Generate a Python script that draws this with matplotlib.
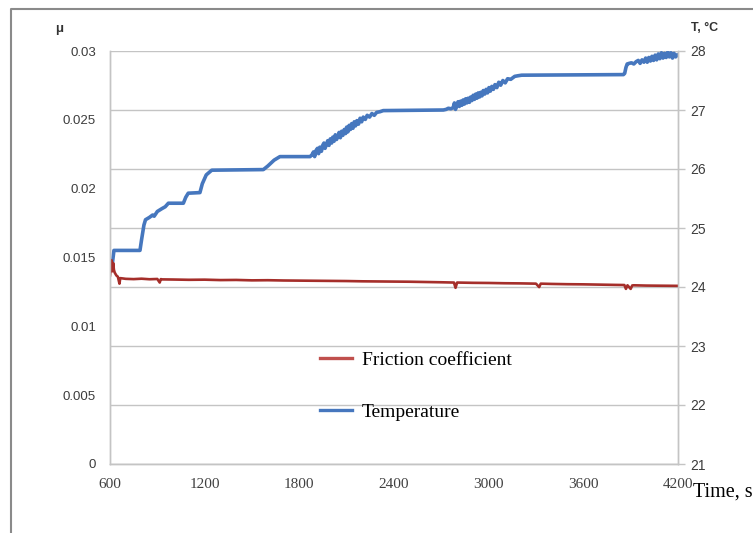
import matplotlib
matplotlib.use("Agg")
import matplotlib.pyplot as plt
from matplotlib.lines import Line2D

# Friction coefficient vs time
mu_time = [600, 605, 610, 615, 620, 625, 630, 640, 650, 660, 665, 680, 700, 750, 800,
           850, 900, 915, 922, 930, 1000, 1100, 1200, 1300, 1400, 1500, 1600, 1700,
           1800, 1900, 2000, 2100, 2200, 2300, 2400, 2500, 2600, 2700, 2780, 2790,
           2800, 2900, 3000, 3100, 3200, 3300, 3320, 3330, 3400, 3500, 3600, 3700,
           3800, 3860, 3870, 3880, 3900, 3910, 3920, 4000, 4100, 4200]
mu_values = [0.0137, 0.0143, 0.0148, 0.0140, 0.0146, 0.0141, 0.0139, 0.0137, 0.0136,
             0.0131, 0.0135, 0.01348, 0.01345, 0.01343, 0.01346, 0.01342, 0.01344,
             0.01318, 0.01343, 0.01341, 0.01340, 0.01338, 0.01339, 0.01336, 0.01337,
             0.01334, 0.01335, 0.01333, 0.01332, 0.01331, 0.01330, 0.01329, 0.01327,
             0.01326, 0.01325, 0.01324, 0.01322, 0.01320, 0.01318, 0.01280, 0.01318,
             0.01316, 0.01315, 0.01313, 0.01312, 0.01310, 0.01285, 0.01310, 0.01308,
             0.01306, 0.01305, 0.01303, 0.01301, 0.01300, 0.01272, 0.01298, 0.01272,
             0.01297, 0.01298, 0.01296, 0.01295, 0.01294]

# Temperature vs time
temp_time = [600, 615, 625, 790, 800, 815, 825, 850, 870, 880, 900, 930, 950, 970,
             1065, 1080, 1096, 1170, 1185, 1210, 1245, 1572, 1600, 1640, 1677,
             1868, 1880, 1890, 1897, 1905, 1915, 1922, 1930, 1940, 1948, 1956, 1963,
             1972, 1980, 1988, 1996, 2005, 2012, 2020, 2028, 2036, 2045, 2052, 2060,
             2068, 2076, 2085, 2093, 2100, 2108, 2116, 2124, 2132, 2140, 2148, 2156,
             2165, 2175, 2185, 2195, 2205, 2218, 2230, 2245, 2260, 2275, 2290, 2310,
             2332, 2713, 2730, 2745, 2760,
             2775, 2783, 2790, 2798, 2806, 2814, 2822, 2830, 2838, 2846, 2854, 2862,
             2870, 2878, 2886, 2894, 2902, 2910, 2918, 2926, 2934, 2942, 2950, 2958,
             2966, 2975, 2984, 2993, 3002, 3011, 3020, 3030, 3040, 3052, 3064, 3076,
             3090, 3105, 3120, 3140, 3165, 3185, 3209,
             3854, 3862, 3870, 3878, 3890, 3905, 3920, 3935, 3948, 3960, 3972, 3984,
             3995, 4005, 4015, 4025, 4035, 4045, 4055, 4065, 4075, 4085, 4095, 4105,
             4115, 4125, 4135, 4145, 4155, 4165, 4175, 4185, 4195]
temp_values = [24.37, 24.40, 24.62, 24.62, 24.80, 25.05, 25.14, 25.18, 25.22, 25.20,
               25.28, 25.33, 25.36, 25.42, 25.42, 25.52, 25.59, 25.60, 25.75, 25.90,
               25.98, 25.99, 26.05, 26.15, 26.21,
               26.21, 26.24, 26.29, 26.21, 26.31, 26.35, 26.26, 26.37, 26.30, 26.40,
               26.44, 26.35, 26.42, 26.48, 26.40, 26.51, 26.44, 26.54, 26.47, 26.58,
               26.50, 26.56, 26.62, 26.53, 26.64, 26.57, 26.67, 26.60, 26.71, 26.63,
               26.74, 26.67, 26.77, 26.69, 26.80, 26.73, 26.82, 26.76, 26.86, 26.80,
               26.88, 26.84, 26.91, 26.88, 26.94, 26.91, 26.96, 26.97,
               26.99, 27.00, 27.01, 27.03, 27.02,
               27.04, 27.12, 27.01, 27.09, 27.14, 27.06, 27.15, 27.08, 27.17, 27.10,
               27.19, 27.12, 27.20, 27.13, 27.22, 27.16, 27.25, 27.18, 27.27, 27.20,
               27.29, 27.22, 27.30, 27.24, 27.33, 27.27, 27.35, 27.29, 27.38, 27.32,
               27.40, 27.35, 27.43, 27.38, 27.47, 27.42, 27.50, 27.46, 27.53, 27.52,
               27.57, 27.58, 27.59,
               27.60, 27.62, 27.72, 27.78, 27.79, 27.80, 27.78, 27.82, 27.84, 27.79,
               27.85, 27.81, 27.88, 27.81, 27.89, 27.83, 27.91, 27.84, 27.93, 27.85,
               27.95, 27.87, 27.97, 27.88, 27.96, 27.89, 27.98, 27.90, 27.97, 27.88,
               27.96, 27.90, 27.93]

x_ticks = [600, 1200, 1800, 2400, 3000, 3600, 4200]
x_tick_labels = ["600", "1200", "1800", "2400", "3000", "3600", "4200"]
mu_ticks = [0, 0.005, 0.01, 0.015, 0.02, 0.025, 0.03]
mu_tick_labels = ["0", "0.005", "0.01", "0.015", "0.02", "0.025", "0.03"]
temp_ticks = [21, 22, 23, 24, 25, 26, 27, 28]
temp_tick_labels = ["21", "22", "23", "24", "25", "26", "27", "28"]

BLUE = "#4677BE"
RED = "#A52E2A"
GRID = "#c4c4c4"
TICK_TXT = "#3c3c3c"

fig = plt.figure(figsize=(7.53, 5.33), dpi=100)
fig.patch.set_facecolor("white")

# Temperature axes sits underneath and carries the gridlines
ax_t = fig.add_axes([110 / 753, 1 - 464 / 533, 568 / 753, 413 / 533])
ax_mu = ax_t.twinx()
ax_mu.set_zorder(ax_t.get_zorder() + 1)
ax_mu.patch.set_visible(False)

ax_t.plot(temp_time, temp_values, color=BLUE, lw=2.6, solid_joinstyle="round",
          label="Temperature")
ax_mu.plot(mu_time, mu_values, color=RED, lw=1.9, label="Friction coefficient")

ax_t.set_xlim(600, 4200)
ax_t.set_ylim(21, 28)
ax_mu.set_ylim(0, 0.03)

# temperature scale on the right, friction scale on the left
ax_t.yaxis.tick_right()
ax_t.yaxis.set_label_position("right")
ax_mu.yaxis.tick_left()
ax_mu.yaxis.set_label_position("left")

ax_t.set_yticks(temp_ticks)
ax_t.set_yticklabels(temp_tick_labels, fontfamily="Liberation Sans", fontsize=10,
                     color=TICK_TXT)
ax_t.tick_params(axis="y", direction="out", length=5, width=1, color=GRID, pad=4)
ax_mu.set_yticks(mu_ticks)
ax_mu.set_yticklabels(mu_tick_labels, fontfamily="Liberation Sans", fontsize=9.5,
                      color=TICK_TXT)
ax_mu.tick_params(axis="y", length=0, pad=10)

ax_t.set_xticks(x_ticks)
ax_t.set_xticklabels(x_tick_labels, fontfamily="Liberation Serif", fontsize=11,
                     color="#404040")
ax_t.tick_params(axis="x", length=0, pad=10)

ax_t.grid(axis="y", color=GRID, lw=1)
ax_t.set_axisbelow(True)
for ax in (ax_t, ax_mu):
    for side in ("left", "right", "bottom"):
        ax.spines[side].set_color(GRID)
        ax.spines[side].set_linewidth(1)
    ax.spines["top"].set_visible(False)

# axis titles
fig.text(59 / 753, 1 - 29 / 533, "μ", ha="center", va="center",
         fontfamily="Liberation Sans", fontweight="bold", fontsize=9.5, color="#333333")
fig.text(705 / 753, 1 - 28 / 533, "T, °C", ha="center", va="center",
         fontfamily="Liberation Sans", fontweight="bold", fontsize=9, color="#333333")
fig.text(693 / 753, 1 - 492 / 533, "Time, s", ha="left", va="center",
         fontfamily="Liberation Serif", fontsize=14.5, color="black")

# legend
handles = [Line2D([], [], color="#C0504D", lw=2.4), Line2D([], [], color=BLUE, lw=2.4)]
fig.legend(handles, ["Friction coefficient", "Temperature"],
           loc="upper left", bbox_to_anchor=(320 / 753, 1 - 351 / 533),
           frameon=False, borderpad=0, borderaxespad=0, handlelength=1.65,
           handletextpad=0.5, labelspacing=1.78,
           prop={"family": "Liberation Serif", "size": 14})

# outer chart border
fig.add_artist(Line2D([10.5 / 753, 10.5 / 753, 1], [0, 1 - 8.5 / 533, 1 - 8.5 / 533],
                      transform=fig.transFigure, color="#8a8a8a", lw=1.5))

fig.savefig("out.png", dpi=100, facecolor="white")
